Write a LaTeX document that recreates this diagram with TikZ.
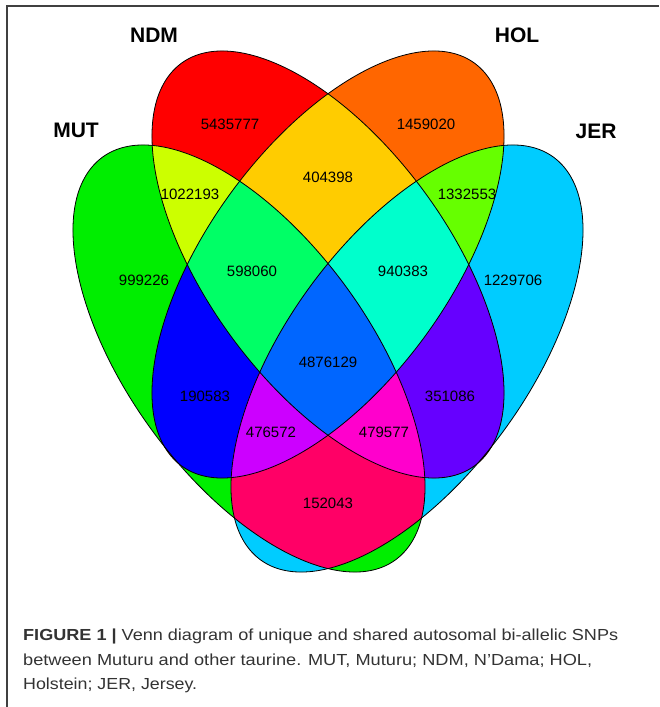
\documentclass[tikz,border=0pt]{standalone}
\usepackage{fontspec}
\setmainfont{Liberation Sans}
\usepackage{graphicx}
\definecolor{cM}{HTML}{00EE00}
\definecolor{cN}{HTML}{FF0000}
\definecolor{cH}{HTML}{FF6600}
\definecolor{cJ}{HTML}{00CCFF}
\definecolor{cMN}{HTML}{CCFF00}
\definecolor{cNH}{HTML}{FFCC00}
\definecolor{cHJ}{HTML}{66FF00}
\definecolor{cMH}{HTML}{0000FF}
\definecolor{cNJ}{HTML}{6600FF}
\definecolor{cMJ}{HTML}{FF0066}
\definecolor{cMNH}{HTML}{00FF66}
\definecolor{cNHJ}{HTML}{00FFCC}
\definecolor{cMHJ}{HTML}{CC00FF}
\definecolor{cMNJ}{HTML}{FF00CC}
\definecolor{cAll}{HTML}{0066FF}
\definecolor{capgray}{HTML}{333333}
\newcommand\venE[2]{\path[#2,#1] (0,0) ellipse [x radius=1.265, y radius=0.632];}
\newcommand\capline[2]{\resizebox{#1}{\height}{#2}}
\begin{document}
\begin{tikzpicture}[x=1pt,y=1pt,
  eM/.style={shift={(249,-358.5)},xscale=176,yscale=213.5,rotate=-45},
  eN/.style={shift={(328,-264.5)},xscale=176,yscale=213.5,rotate=-45},
  eH/.style={shift={(328,-264.5)},xscale=176,yscale=213.5,rotate=45},
  eJ/.style={shift={(407,-358.5)},xscale=176,yscale=213.5,rotate=45},
  num/.style={font=\fontsize{15}{17}\selectfont, inner sep=0pt},
  setlabel/.style={font=\fontsize{21}{24}\selectfont\bfseries, inner sep=0pt},
  capstyle/.style={font=\fontsize{16}{18}\selectfont, text=capgray, inner sep=0pt, anchor=base west},
  outline/.style={draw=black, line width=0.8pt},
  framestyle/.style={draw=black!75, line width=1.5pt}
]
\useasboundingbox (0,0) rectangle (659,-707);
\fill[white] (0,0) rectangle (659,-707);
% single sets
\venE{eM}{fill=cM}
\venE{eJ}{fill=cJ}
\venE{eN}{fill=cN}
\venE{eH}{fill=cH}
% pairs
\begin{scope}\venE{eM}{clip}\venE{eN}{fill=cMN}\end{scope}
\begin{scope}\venE{eN}{clip}\venE{eH}{fill=cNH}\end{scope}
\begin{scope}\venE{eH}{clip}\venE{eJ}{fill=cHJ}\end{scope}
\begin{scope}\venE{eM}{clip}\venE{eH}{fill=cMH}\end{scope}
\begin{scope}\venE{eN}{clip}\venE{eJ}{fill=cNJ}\end{scope}
\begin{scope}\venE{eM}{clip}\venE{eJ}{fill=cMJ}\end{scope}
% triples
\begin{scope}\venE{eM}{clip}\venE{eN}{clip}\venE{eH}{fill=cMNH}\end{scope}
\begin{scope}\venE{eN}{clip}\venE{eH}{clip}\venE{eJ}{fill=cNHJ}\end{scope}
\begin{scope}\venE{eM}{clip}\venE{eH}{clip}\venE{eJ}{fill=cMHJ}\end{scope}
\begin{scope}\venE{eM}{clip}\venE{eN}{clip}\venE{eJ}{fill=cMNJ}\end{scope}
% all four
\begin{scope}\venE{eM}{clip}\venE{eN}{clip}\venE{eH}{clip}\venE{eJ}{fill=cAll}\end{scope}
% outlines
\venE{eM}{outline}
\venE{eN}{outline}
\venE{eH}{outline}
\venE{eJ}{outline}
% set labels
\node[setlabel] (lNDM) at (154,-35.5) {NDM};
\node[setlabel] (lHOL) at (517,-35.5) {HOL};
\node[setlabel] (lMUT) at (76,-130.5) {MUT};
\node[setlabel] (lJER) at (596,-131) {JER};
% region counts
\node[num] (rN) at (230,-124) {5435777};
\node[num] (rH) at (426,-124) {1459020};
\node[num] (rNH) at (328,-177) {404398};
\node[num] (rMN) at (190,-194) {1022193};
\node[num] (rHJ) at (467,-194) {1332553};
\node[num] (rM) at (144,-280) {999226};
\node[num] (rMNH) at (252,-271) {598060};
\node[num] (rNHJ) at (403,-271) {940383};
\node[num] (rJ) at (513,-280) {1229706};
\node[num] (rAll) at (328,-362) {4876129};
\node[num] (rMH) at (205,-396) {190583};
\node[num] (rNJ) at (450,-396) {351086};
\node[num] (rMHJ) at (271,-432) {476572};
\node[num] (rMNJ) at (384,-432) {479577};
\node[num] (rMJ) at (328,-503) {152043};
% frame
\draw[framestyle] (7,-707) -- (7,-6) -- (659,-6);
% caption
\node[capstyle] (cap1) at (23,-640.5) {\capline{595pt}{\textbf{FIGURE 1 |} Venn diagram of unique and shared autosomal bi-allelic SNPs}};
\node[capstyle] (cap2) at (23,-665) {\capline{569pt}{between Muturu and other taurine. MUT, Muturu; NDM, N’Dama; HOL,}};
\node[capstyle] (cap3) at (23,-689.5) {\capline{174pt}{Holstein; JER, Jersey.}};
\end{tikzpicture}
\end{document}
